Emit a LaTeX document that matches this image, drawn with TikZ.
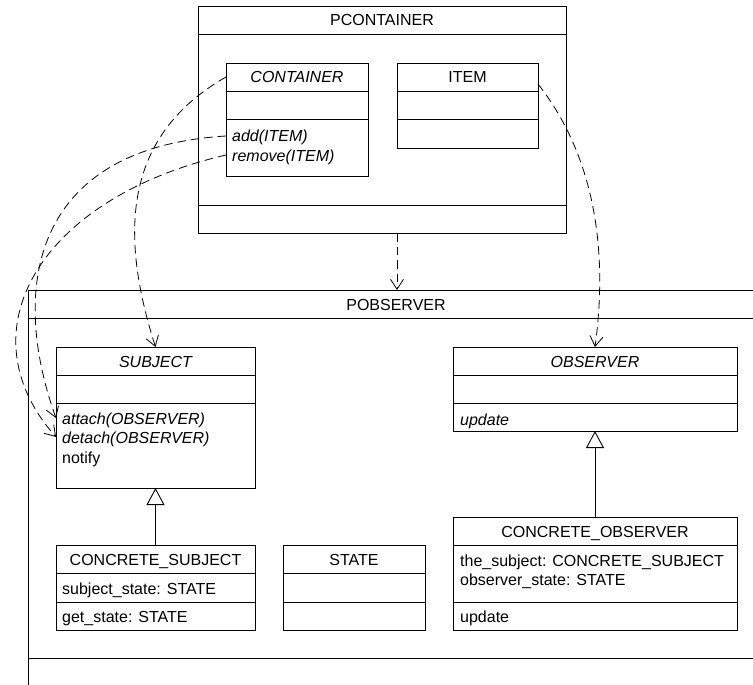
\documentclass[tikz,border=0pt]{standalone}
\usepackage{fontspec}
\setmainfont{Liberation Sans}
\usetikzlibrary{arrows.meta}

% class box: name, left, top, width, height
\newcommand\umlbox[5]{\node[box, anchor=north west, minimum width=#4pt, minimum height=#5pt] (#1) at (#2,#3) {};}
% compartment separator: box name, offset from the top
\newcommand\umlsep[2]{\draw[sepline] ([yshift=-#2pt]#1.north west) -- ([yshift=-#2pt]#1.north east);}

\begin{document}
\begin{tikzpicture}[x=1pt,y=-1pt,
  every node/.style={font=\fontsize{16}{19}\selectfont},
  box/.style={draw, rectangle, inner sep=0, outer sep=0, line width=0.9pt},
  sepline/.style={line width=0.9pt},
  txt/.style={inner sep=0, text height=15pt, text depth=3pt},
  member/.style={txt, anchor=west},
  abstract/.style={font=\fontsize{16}{19}\selectfont\itshape},
  dep/.style={line width=0.8pt, dash pattern=on 8.5pt off 5pt,
    -{Straight Barb[length=10pt,width=13pt,line width=0.8pt]}},
  gen/.style={line width=0.9pt, -{Triangle[open,length=17pt,width=18pt,fill=white,line width=0.9pt]}},
]
\useasboundingbox (0,0) rectangle (753,685);
\clip (0,0) rectangle (753,685);

% package PCONTAINER
\umlbox{pcont}{198}{6}{368}{227}
\umlsep{pcont}{28}
\umlsep{pcont}{199}
\node[txt] (pconttitle) at ([yshift=-14pt]pcont.north) {PCONTAINER};

\umlbox{container}{226}{63}{142}{113}
\umlsep{container}{28}
\umlsep{container}{56}
\node[txt, abstract] (conttitle) at ([yshift=-14pt]container.north) {CONTAINER};
\node[member, abstract] (addop) at (232,136) {add(ITEM)};
\node[member, abstract] (removeop) at (232,155) {remove(ITEM)};

\umlbox{item}{397}{63}{141}{85}
\umlsep{item}{28}
\umlsep{item}{56}
\node[txt] (itemtitle) at ([yshift=-14pt]item.north) {ITEM};

% package POBSERVER (runs past the right and lower edges)
\umlbox{pobs}{28}{290}{736}{430}
\umlsep{pobs}{28}
\umlsep{pobs}{368}
\node[txt] (pobstitle) at ([yshift=-14pt]pobs.north) {POBSERVER};

\umlbox{subject}{56}{347}{199}{141}
\umlsep{subject}{28}
\umlsep{subject}{56}
\node[txt, abstract] (subjtitle) at ([yshift=-14pt]subject.north) {SUBJECT};
\node[member, abstract] (attachop) at (62,418) {attach(OBSERVER)};
\node[member, abstract] (detachop) at (62,437) {detach(OBSERVER)};
\node[member] (notifyop) at (62,457) {notify};

\umlbox{observer}{453}{347}{284}{84}
\umlsep{observer}{28}
\umlsep{observer}{56}
\node[txt, abstract] (obstitle) at ([yshift=-14pt]observer.north) {OBSERVER};
\node[member, abstract] (obsupdate) at (460,419) {update};

\umlbox{csubject}{56}{545}{199}{85}
\umlsep{csubject}{28.5}
\umlsep{csubject}{57}
\node[txt] (csubjtitle) at ([yshift=-14pt]csubject.north) {CONCRETE\_SUBJECT};
\node[member] (substate) at (62,588) {subject\_state: STATE};
\node[member] (getstate) at (62,616) {get\_state: STATE};

\umlbox{state}{283}{545}{142}{85}
\umlsep{state}{28.5}
\umlsep{state}{57}
\node[txt] (statetitle) at ([yshift=-14pt]state.north) {STATE};

\umlbox{cobserver}{453}{517}{284}{113}
\umlsep{cobserver}{28}
\umlsep{cobserver}{85}
\node[txt] (cobstitle) at ([yshift=-14pt]cobserver.north) {CONCRETE\_OBSERVER};
\node[member] (thesubject) at (460,560) {the\_subject: CONCRETE\_SUBJECT};
\node[member] (obsstate) at (460,579) {observer\_state: STATE};
\node[member] (cobsupdate) at (460,616) {update};

% generalizations
\draw[gen] (csubject.north) -- (subject.south);
\draw[gen] (cobserver.north) -- (observer.south);

% dependencies
\coordinate (pcontport) at ([xshift=15pt]pcont.south);
\draw[dep] (pcontport) -- (pcontport |- pobs.north);
\draw[dep] (container.west |- conttitle) .. controls +(-105,60) and +(-35,-110) .. (subject.north);
\draw[dep] (container.west |- addop) .. controls +(-196,12) and +(-46,-128) .. (subject.west |- attachop);
\draw[dep] (container.west |- removeop) .. controls +(-186,43) and +(-94,-106) .. (subject.west |- detachop);
\coordinate (itemport) at ([yshift=-21pt]item.north east);
\draw[dep] (itemport) .. controls +(52,66) and +(14.5,-107) .. (observer.north);
\end{tikzpicture}
\end{document}
